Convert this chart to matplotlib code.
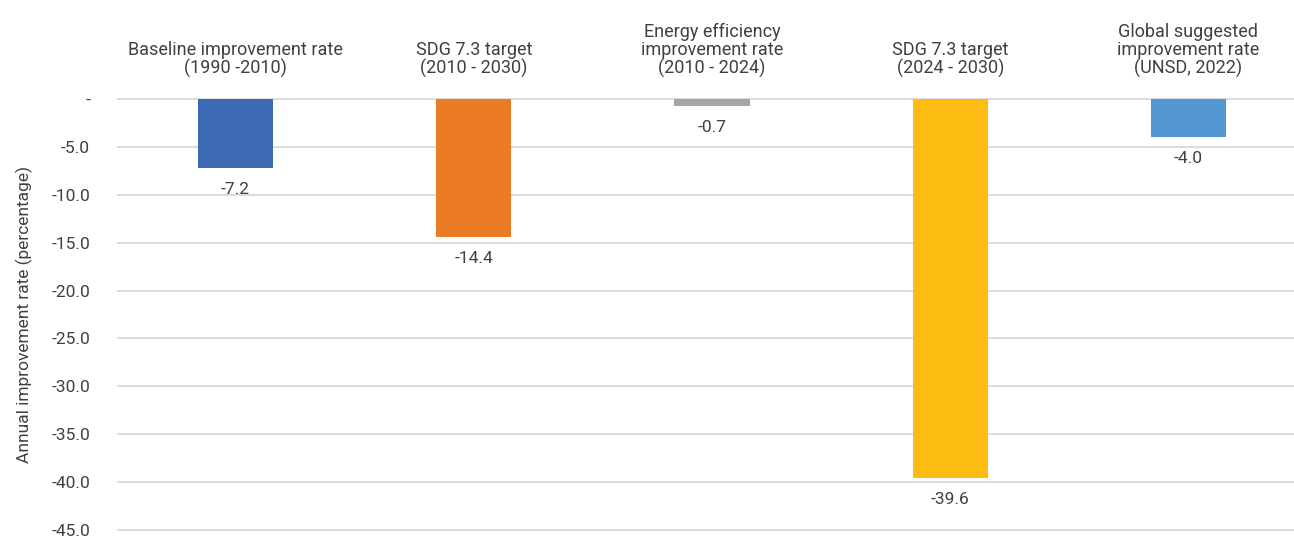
import matplotlib.pyplot as plt
import numpy as np

categories = [
    "Baseline improvement rate\n(1990 -2010)",
    "SDG 7.3 target\n(2010 - 2030)",
    "Energy efficiency\nimprovement rate\n(2010 - 2024)",
    "SDG 7.3 target\n(2024 - 2030)",
    "Global suggested\nimprovement rate\n(UNSD, 2022)",
]
rates = [-7.2, -14.4, -0.7, -39.6, -4.0]
bar_colors = ["#3D6BB3", "#EC7B26", "#A5A5A5", "#FCBC12", "#5397D3"]
y_ticks = [0, -5, -10, -15, -20, -25, -30, -35, -40, -45]

plt.rcParams["font.family"] = ["Roboto", "DejaVu Sans"]
text_color = "#404040"

fig = plt.figure(figsize=(12.94, 5.38), dpi=100)
# right edge runs past the figure so the last category is cut like the original
ax = fig.add_axes([116.5 / 1294, 7 / 538, 1191 / 1294, 433 / 538])

x = np.arange(len(categories))
ax.bar(x, rates, width=0.315, color=bar_colors, zorder=3)

ax.set_xlim(-0.5, len(categories) - 0.5)
ax.set_ylim(-45.1, 0.1)
ax.set_yticks(y_ticks)
ax.set_yticklabels(["-" if v == 0 else f"{v:.1f}" for v in y_ticks])
ax.tick_params(axis="y", length=0, pad=19, labelsize=12.5, labelcolor=text_color)
ax.set_xticks([])
ax.grid(axis="y", color="#D9D9D9", linewidth=1.3, zorder=0)
for side in ax.spines.values():
    side.set_visible(False)

ax.set_ylabel("Annual improvement rate (percentage)", fontsize=12.5,
              color=text_color, labelpad=13)

for i, (name, v) in enumerate(zip(categories, rates)):
    ax.annotate(f"{v:.1f}", xy=(i, v), xytext=(0, -10), textcoords="offset points",
                ha="center", va="top", fontsize=12.5, color=text_color)
    ax.annotate(name, xy=(i, 0), xytext=(0, 15), textcoords="offset points",
                ha="center", va="bottom", fontsize=13, color=text_color,
                linespacing=1.0)

fig.savefig("out.png", dpi=100)
